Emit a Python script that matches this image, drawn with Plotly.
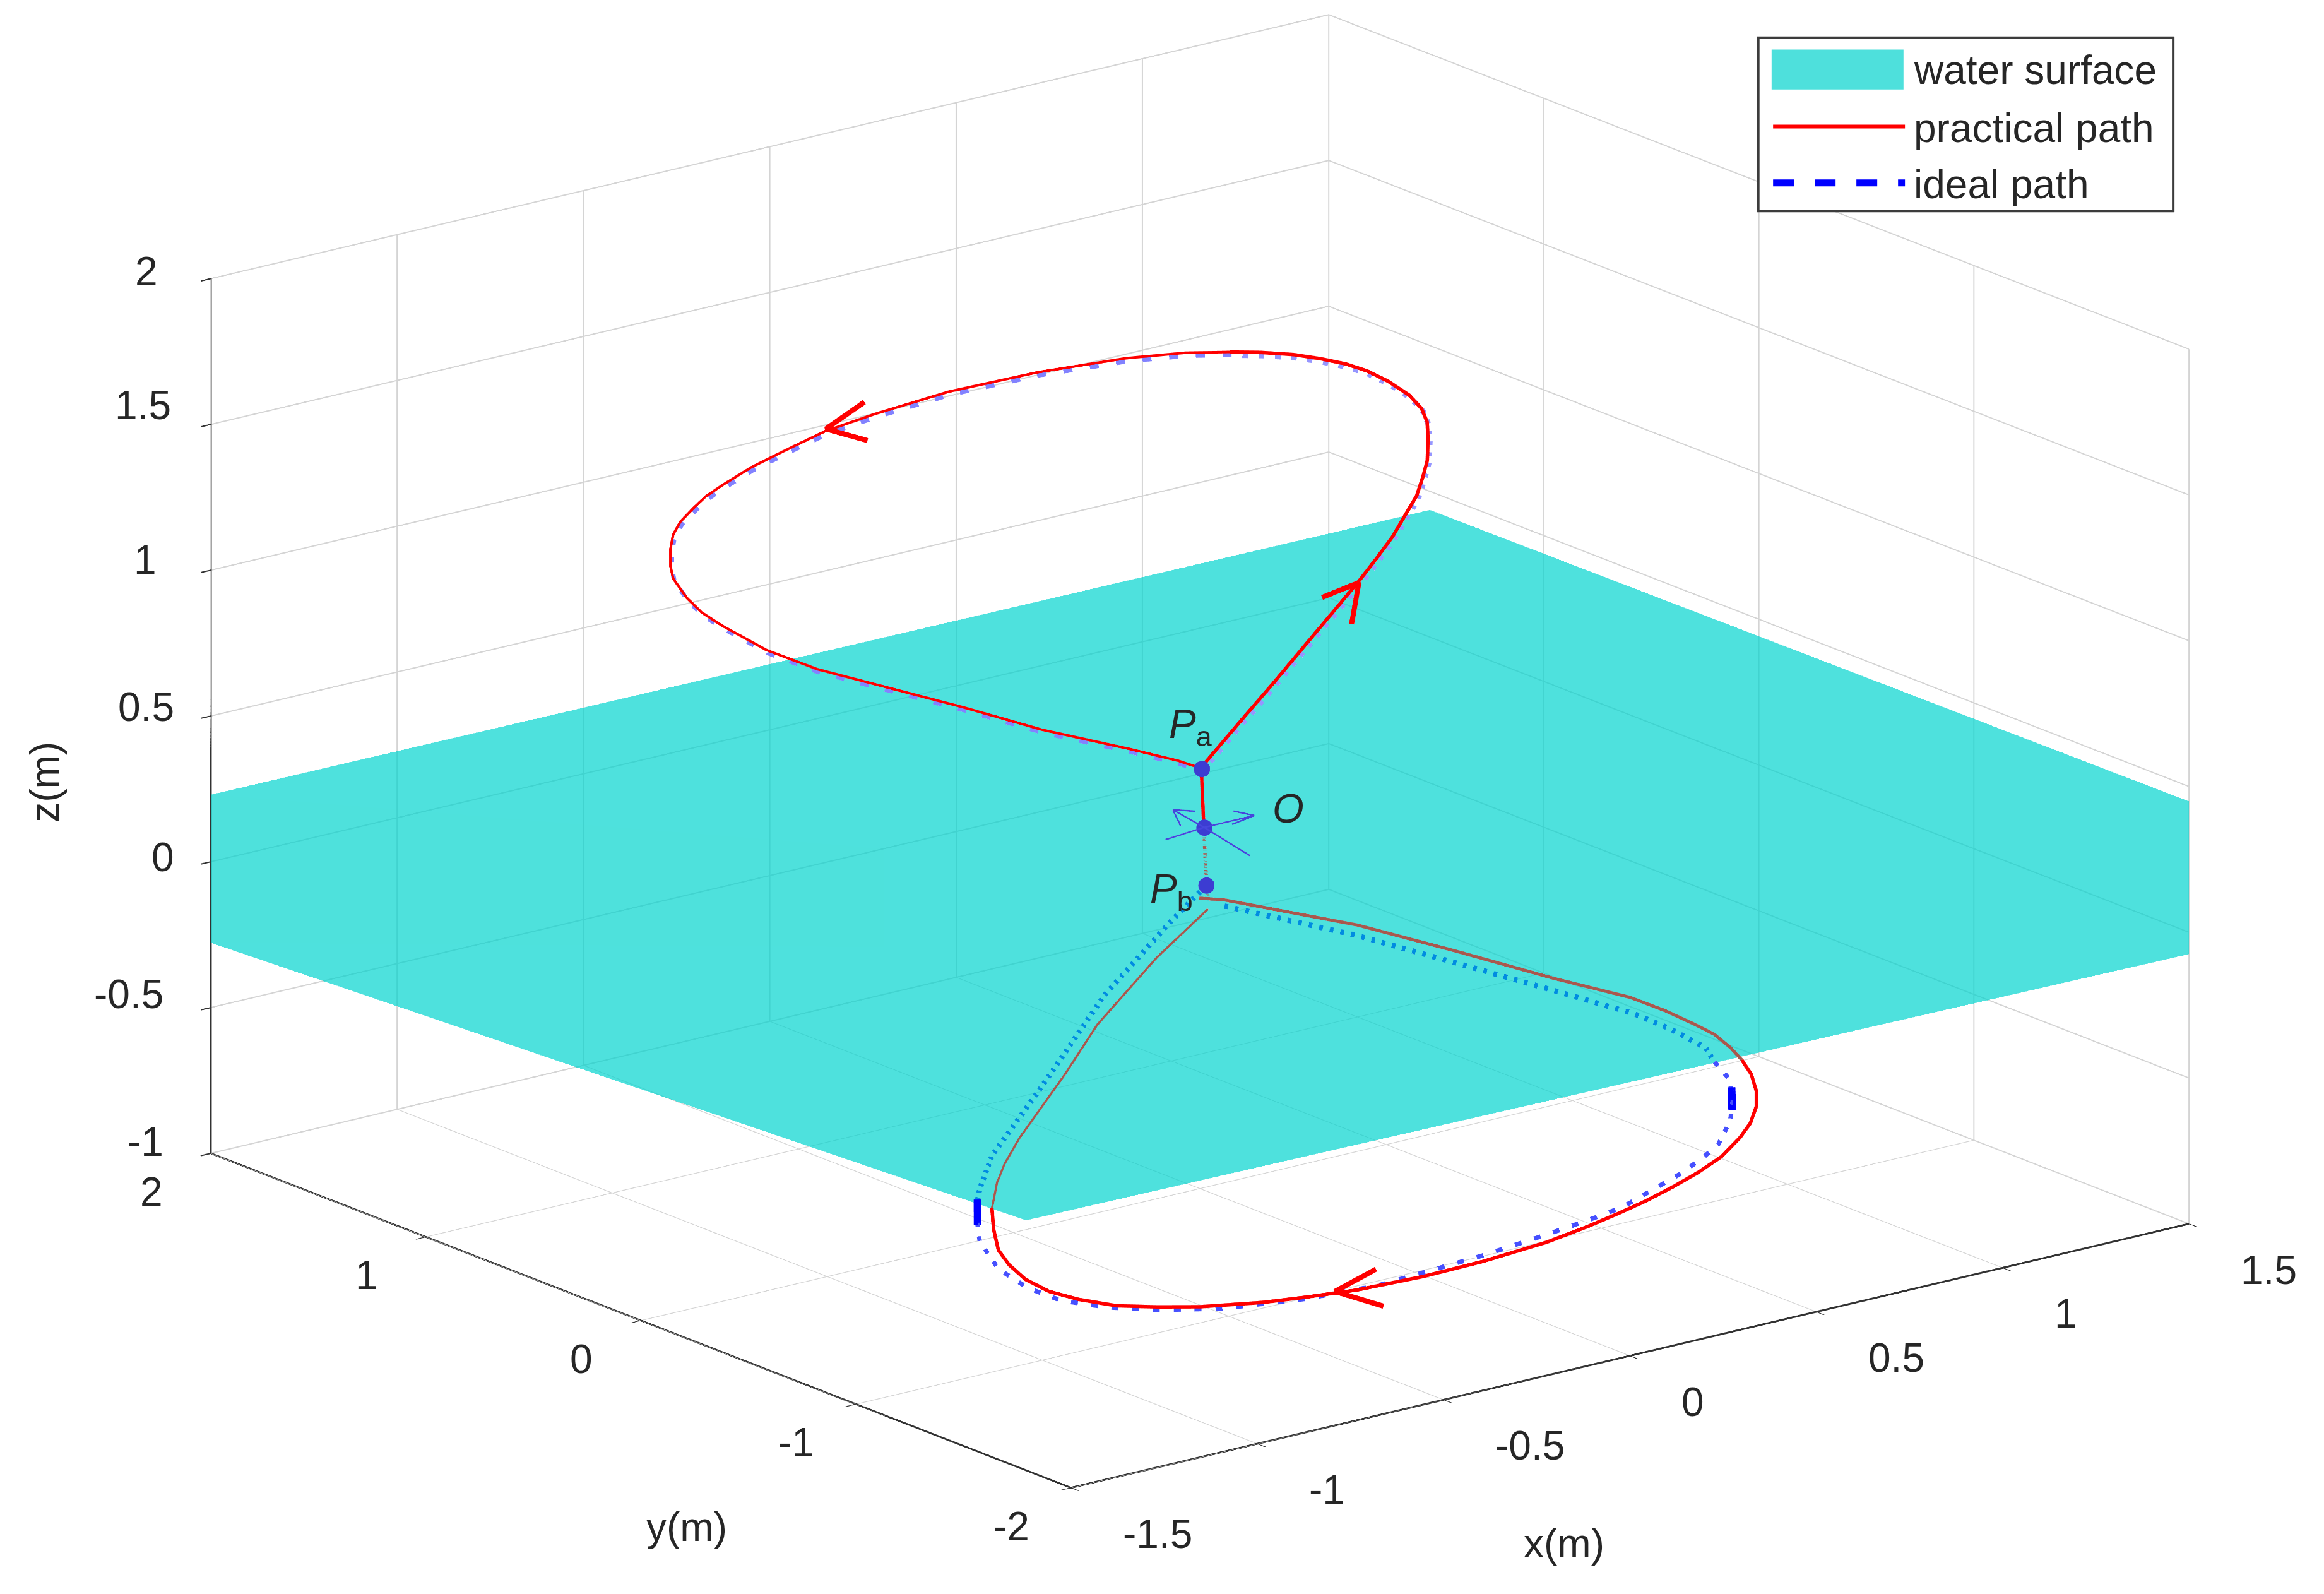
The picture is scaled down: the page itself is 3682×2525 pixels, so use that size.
import plotly.graph_objects as go

# ---------- data (x, y, z in metres) ----------
water_x = [-1.5, 1.5, 1.5, 1.5, -0.464, -1.5]
water_y = [2, 1.53, -2, -2, 0.004, 2]
water_z = [0.23, 0.436, 0.449, -0.075, -0.97, -0.278]

practical_stem = [(-0.144,-0.268,0.359),(-0.106,-0.192,0.495),(-0.099,-0.175,0.522)]
practical_rise = [(-0.099,-0.175,0.522),(0.033,-0.137,0.637),(0.133,-0.110,0.724),(0.272,-0.068,0.845),(0.411,-0.027,0.967),(0.469,-0.006,1.019),(0.526,0.016,1.072),(0.578,0.046,1.123),(0.622,0.070,1.168),(0.659,0.105,1.212),(0.690,0.138,1.250),(0.722,0.190,1.298),(0.745,0.234,1.337),(0.756,0.279,1.367),(0.757,0.339,1.396),(0.745,0.416,1.425),(0.728,0.484,1.446),(0.706,0.545,1.459),(0.675,0.609,1.468),(0.640,0.674,1.474),(0.595,0.743,1.475),(0.548,0.809,1.472)]
practical_fall = [(0.548,0.809,1.472),(0.479,0.897,1.465),(0.381,1.004,1.445),(0.227,1.148,1.402),(0.064,1.279,1.347),(-0.080,1.373,1.287),(-0.180,1.430,1.242),(-0.264,1.461,1.196),(-0.344,1.489,1.151),(-0.415,1.503,1.106),(-0.456,1.508,1.079),(-0.492,1.504,1.050),(-0.531,1.496,1.018),(-0.560,1.479,0.988),(-0.586,1.447,0.954),(-0.610,1.405,0.916),(-0.624,1.368,0.888),(-0.631,1.293,0.846),(-0.630,1.226,0.815),(-0.618,1.150,0.787),(-0.586,0.999,0.737),(-0.537,0.849,0.700),(-0.472,0.698,0.673),(-0.370,0.456,0.631),(-0.284,0.243,0.590),(-0.179,0.017,0.557),(-0.122,-0.112,0.536),(-0.099,-0.175,0.522)]
practical_sub_stem = [(-0.144,-0.268,0.359),(-0.142,-0.271,0.243),(-0.138,-0.277,0.116)]
practical_sub_right = [(-0.151,-0.259,0.116),(-0.113,-0.310,0.113),(0.066,-0.617,0.061),(0.176,-0.870,0.014),(0.290,-1.141,-0.039),(0.380,-1.342,-0.074),(0.415,-1.446,-0.101),(0.440,-1.535,-0.128),(0.457,-1.601,-0.150),(0.463,-1.666,-0.179),(0.463,-1.718,-0.206)]
practical_lobe = [(0.463,-1.718,-0.206),(0.458,-1.771,-0.239),(0.442,-1.822,-0.277),(0.422,-1.857,-0.312),(0.389,-1.886,-0.352),(0.353,-1.899,-0.388),(0.299,-1.907,-0.434),(0.242,-1.897,-0.474),(0.184,-1.880,-0.511),(0.123,-1.859,-0.547),(0.064,-1.834,-0.579),(0.003,-1.804,-0.612),(-0.083,-1.757,-0.655),(-0.207,-1.673,-0.708),(-0.318,-1.589,-0.750),(-0.437,-1.486,-0.790),(-0.526,-1.399,-0.813),(-0.596,-1.327,-0.830),(-0.697,-1.210,-0.848),(-0.761,-1.124,-0.854),(-0.823,-1.038,-0.856),(-0.871,-0.946,-0.846),(-0.905,-0.866,-0.831),(-0.924,-0.790,-0.806),(-0.929,-0.723,-0.774),(-0.925,-0.666,-0.741),(-0.903,-0.605,-0.692),(-0.877,-0.553,-0.644)]
practical_sub_left = [(-0.877,-0.553,-0.644),(-0.834,-0.502,-0.584),(-0.797,-0.473,-0.539),(-0.740,-0.442,-0.478),(-0.584,-0.382,-0.325),(-0.465,-0.329,-0.203),(-0.283,-0.289,-0.040),(-0.138,-0.277,0.080)]

ideal_rise = [(-0.069,-0.130,0.490),(0.065,-0.088,0.603),(0.161,-0.068,0.693),(0.300,-0.026,0.815),(0.439,0.015,0.936),(0.497,0.036,0.989),(0.554,0.058,1.041),(0.605,0.087,1.093),(0.650,0.112,1.137),(0.687,0.147,1.181),(0.718,0.180,1.220),(0.750,0.231,1.268),(0.773,0.275,1.306),(0.784,0.321,1.337),(0.785,0.381,1.366),(0.773,0.457,1.394),(0.760,0.533,1.412),(0.738,0.594,1.425),(0.707,0.658,1.434),(0.672,0.723,1.440),(0.627,0.792,1.441),(0.580,0.858,1.438)]
ideal_fall = [(0.580,0.858,1.438),(0.511,0.946,1.431),(0.413,1.053,1.411),(0.259,1.197,1.368),(0.096,1.328,1.313),(-0.048,1.422,1.253),(-0.148,1.479,1.208),(-0.232,1.510,1.162),(-0.312,1.538,1.117),(-0.383,1.552,1.072),(-0.424,1.557,1.045),(-0.460,1.553,1.016),(-0.499,1.545,0.984),(-0.528,1.528,0.954),(-0.554,1.496,0.920),(-0.578,1.454,0.882),(-0.592,1.417,0.854),(-0.599,1.342,0.812),(-0.598,1.275,0.781),(-0.586,1.199,0.753),(-0.554,1.048,0.703),(-0.505,0.898,0.666),(-0.440,0.747,0.639),(-0.338,0.505,0.597),(-0.252,0.292,0.556),(-0.147,0.066,0.523),(-0.090,-0.063,0.502),(-0.067,-0.126,0.488)]
ideal_sub_right = [(-0.083,-0.258,0.068),(0.080,-0.588,0.013),(0.189,-0.846,-0.037),(0.303,-1.117,-0.091),(0.394,-1.338,-0.136),(0.427,-1.445,-0.166),(0.455,-1.563,-0.206),(0.449,-1.615,-0.238)]
ideal_lobe = [(0.449,-1.615,-0.238),(0.448,-1.685,-0.276),(0.425,-1.742,-0.324),(0.392,-1.787,-0.373),(0.342,-1.819,-0.429),(0.303,-1.820,-0.460),(0.245,-1.813,-0.502),(0.177,-1.794,-0.545),(0.109,-1.775,-0.588),(0.041,-1.737,-0.622),(-0.043,-1.687,-0.661),(-0.169,-1.607,-0.718),(-0.367,-1.468,-0.800),(-0.498,-1.351,-0.841),(-0.638,-1.204,-0.874),(-0.735,-1.080,-0.885),(-0.808,-0.972,-0.885),(-0.869,-0.862,-0.875),(-0.902,-0.764,-0.850),(-0.921,-0.659,-0.809),(-0.911,-0.555,-0.747),(-0.892,-0.512,-0.709),(-0.857,-0.451,-0.650)]
ideal_solid_right = [(0.440,-1.710,-0.295),(0.410,-1.765,-0.348)]
ideal_solid_left = [(-0.892,-0.512,-0.709),(-0.857,-0.451,-0.650)]
ideal_sub_left = [(-0.857,-0.451,-0.650),(-0.839,-0.430,-0.625),(-0.774,-0.375,-0.545),(-0.615,-0.316,-0.389),(-0.383,-0.221,-0.157),(-0.180,-0.179,0.024),(-0.114,-0.216,0.127)]

direction_arrows = [(-0.179,1.250,1.393),(-0.276,1.261,1.327),(-0.230,1.147,1.306),None,
                    (0.232,-0.166,1.005),(0.309,-0.204,1.044),(0.238,-0.293,0.948),None,
                    (-0.479,-1.649,-0.659),(-0.572,-1.619,-0.716),(-0.519,-1.753,-0.744)]
frame_O = [(-0.542,-0.814,0.696),(-0.494,-0.876,0.639),(-0.425,-0.969,0.548),None,
           (-0.418,-0.978,0.686),(-0.494,-0.876,0.639),(-0.553,-0.799,0.593),None,
           (-0.542,-0.814,0.696),(-0.508,-0.859,0.694),None,(-0.542,-0.814,0.696),(-0.530,-0.829,0.641),None,
           (-0.418,-0.978,0.686),(-0.450,-0.936,0.699),None,(-0.418,-0.978,0.686),(-0.452,-0.933,0.653)]
key_points = [(-0.448,-0.785,0.800),(-0.444,-0.790,0.599),(-0.441,-0.794,0.401)]

x_ticks = [-1.5,-1,-0.5,0,0.5,1,1.5]
y_ticks = [-2,-1,0,1,2]
z_ticks = [-1,-0.5,0,0.5,1,1.5,2]
legend_labels = ['water surface','practical path','ideal path']

# ---------- drawing ----------
BLUE='rgb(70,80,255)'; WET='rgb(0,140,225)'; BR='rgb(168,88,78)'
def tr(name,pts,color,width,dash='solid'):
    return go.Scatter3d(x=[p[0] if p else None for p in pts],y=[p[1] if p else None for p in pts],z=[p[2] if p else None for p in pts],
        mode='lines',line=dict(color=color,width=width,dash=dash),showlegend=False,name=name,hoverinfo='skip')
fig=go.Figure()
fig.add_trace(go.Mesh3d(x=water_x,y=water_y,z=water_z,i=[0,0,0,5],j=[1,2,3,3],k=[2,3,5,4],color='rgb(2,211,205)',opacity=.7,flatshading=True,
    lighting=dict(ambient=1,diffuse=0,specular=0,roughness=1,fresnel=0),hoverinfo='skip',name='water surface'))
fig.add_trace(tr('ideal path',ideal_rise,'rgb(150,150,255)',18,'dash'))
fig.add_trace(tr('ideal path',ideal_fall,'rgb(130,130,255)',14,'dash'))
fig.add_trace(tr('ideal path',ideal_sub_right,WET,17,'dash'))
fig.add_trace(tr('ideal path',ideal_lobe,BLUE,14,'dash'))
fig.add_trace(tr('ideal path',ideal_sub_left,WET,17,'dash'))
fig.add_trace(tr('ideal path',ideal_solid_right,'blue',24))
fig.add_trace(tr('ideal path',ideal_solid_left,'blue',24))
fig.add_trace(tr('practical path',practical_stem,'red',11))
fig.add_trace(tr('practical path',practical_rise,'red',11))
fig.add_trace(tr('practical path',practical_fall,'red',8))
fig.add_trace(tr('practical path',practical_sub_right,BR,10))
fig.add_trace(tr('practical path',practical_lobe,'red',11))
fig.add_trace(tr('practical path',practical_sub_left,BR,7))
fig.add_trace(tr('practical path',practical_sub_stem,BR,11,'dash'))
fig.add_trace(tr('direction',direction_arrows,'red',16))
fig.add_trace(tr('frame O',frame_O,'rgb(70,70,220)',5))
fig.add_trace(go.Scatter3d(x=[p[0] for p in key_points],y=[p[1] for p in key_points],z=[p[2] for p in key_points],mode='markers',
    marker=dict(size=15,color='rgb(60,60,210)',line=dict(width=0)),showlegend=False,hoverinfo='skip'))

TF=dict(family='Liberation Sans',size=64,color='rgb(38,38,38)')
ann=[]
zdx=[-73,-73,-56,-56,-84,-61,-82]; zdy=[18,21,7,14,16,30,11]
for v,a,b in zip(z_ticks,zdx,zdy):
    ann.append(dict(x=-1.5,y=2,z=v,text=str(v),showarrow=False,xanchor='right',yanchor='middle',xshift=a,yshift=b,font=TF))
for v in y_ticks:
    ann.append(dict(x=-1.5,y=v,z=-1,text=str(v),showarrow=False,xanchor='center',yanchor='middle',xshift=-94,yshift=-61,font=TF))
for v in x_ticks:
    ann.append(dict(x=v,y=-2,z=-1,text=str(v),showarrow=False,xanchor='left',yanchor='middle',xshift=80,yshift=-73,font=TF))
ax=lambda vals:dict(tickvals=vals,showticklabels=False,showbackground=False,showgrid=True,gridcolor='rgb(212,212,212)',gridwidth=4,showline=True,linecolor='rgb(50,50,50)',linewidth=6,zeroline=False,showspikes=False,ticks='outside',ticklen=20,tickwidth=4,tickcolor='rgb(50,50,50)',title=dict(text=''))
F=2.348
def pa(x,y,t,xanchor='center',**k):
    return dict(xref='paper',yref='paper',x=x*F/3682,y=1-y*F/2525,text=t,showarrow=False,font=TF,xanchor=xanchor,yanchor='middle',**k)
paper=[pa(1052,1038,'x(m)'),pa(460,1027,'y(m)'),pa(27,524,'z(m)',textangle=-90),
 pa(800,487,'<i>P</i><sub>a</sub>'),pa(866,542,'<i>O</i>'),pa(787,598,'<i>P</i><sub>b</sub>'),
 pa(1287,44,legend_labels[0],xanchor='left'),pa(1287,83,legend_labels[1],xanchor='left'),pa(1287,121,legend_labels[2],xanchor='left')]
def sh(kind,x0,y0,x1,y1,**k):
    return dict(type=kind,xref='paper',yref='paper',x0=x0*F/3682,x1=x1*F/3682,y0=1-y0*F/2525,y1=1-y1*F/2525,**k)
shapes=[sh('rect',1183,22,1463,139,line=dict(color='rgb(60,60,60)',width=4),fillcolor='white',layer='above'),
 sh('rect',1192,30,1281,57,line=dict(width=0),fillcolor='rgb(78,224,220)',layer='above'),
 sh('line',1193,82,1282,82,line=dict(color='red',width=6),layer='above'),
 sh('line',1193,120,1282,120,line=dict(color='blue',width=11,dash='dash'),layer='above')]
fig.update_layout(width=3682,height=2525,margin=dict(l=0,r=0,t=0,b=0),paper_bgcolor='white',annotations=paper,shapes=shapes,showlegend=False,
 scene=dict(domain=dict(x=[0.0282,1],y=[0.0638,1]),annotations=ann,
  xaxis=dict(ax(x_ticks),range=[-1.5,1.5]),
  yaxis=dict(ax(y_ticks),range=[-2,2]),
  zaxis=dict(ax(z_ticks),range=[-1,2]),
  aspectmode='manual',aspectratio=dict(x=1.90,y=1.876,z=1.23),
  camera=dict(projection=dict(type='orthographic'),eye=dict(x=-1.172,y=-1.504,z=.606),up=dict(x=0,y=0,z=1),center=dict(x=0,y=0,z=0))))
fig.write_html('out.html')
